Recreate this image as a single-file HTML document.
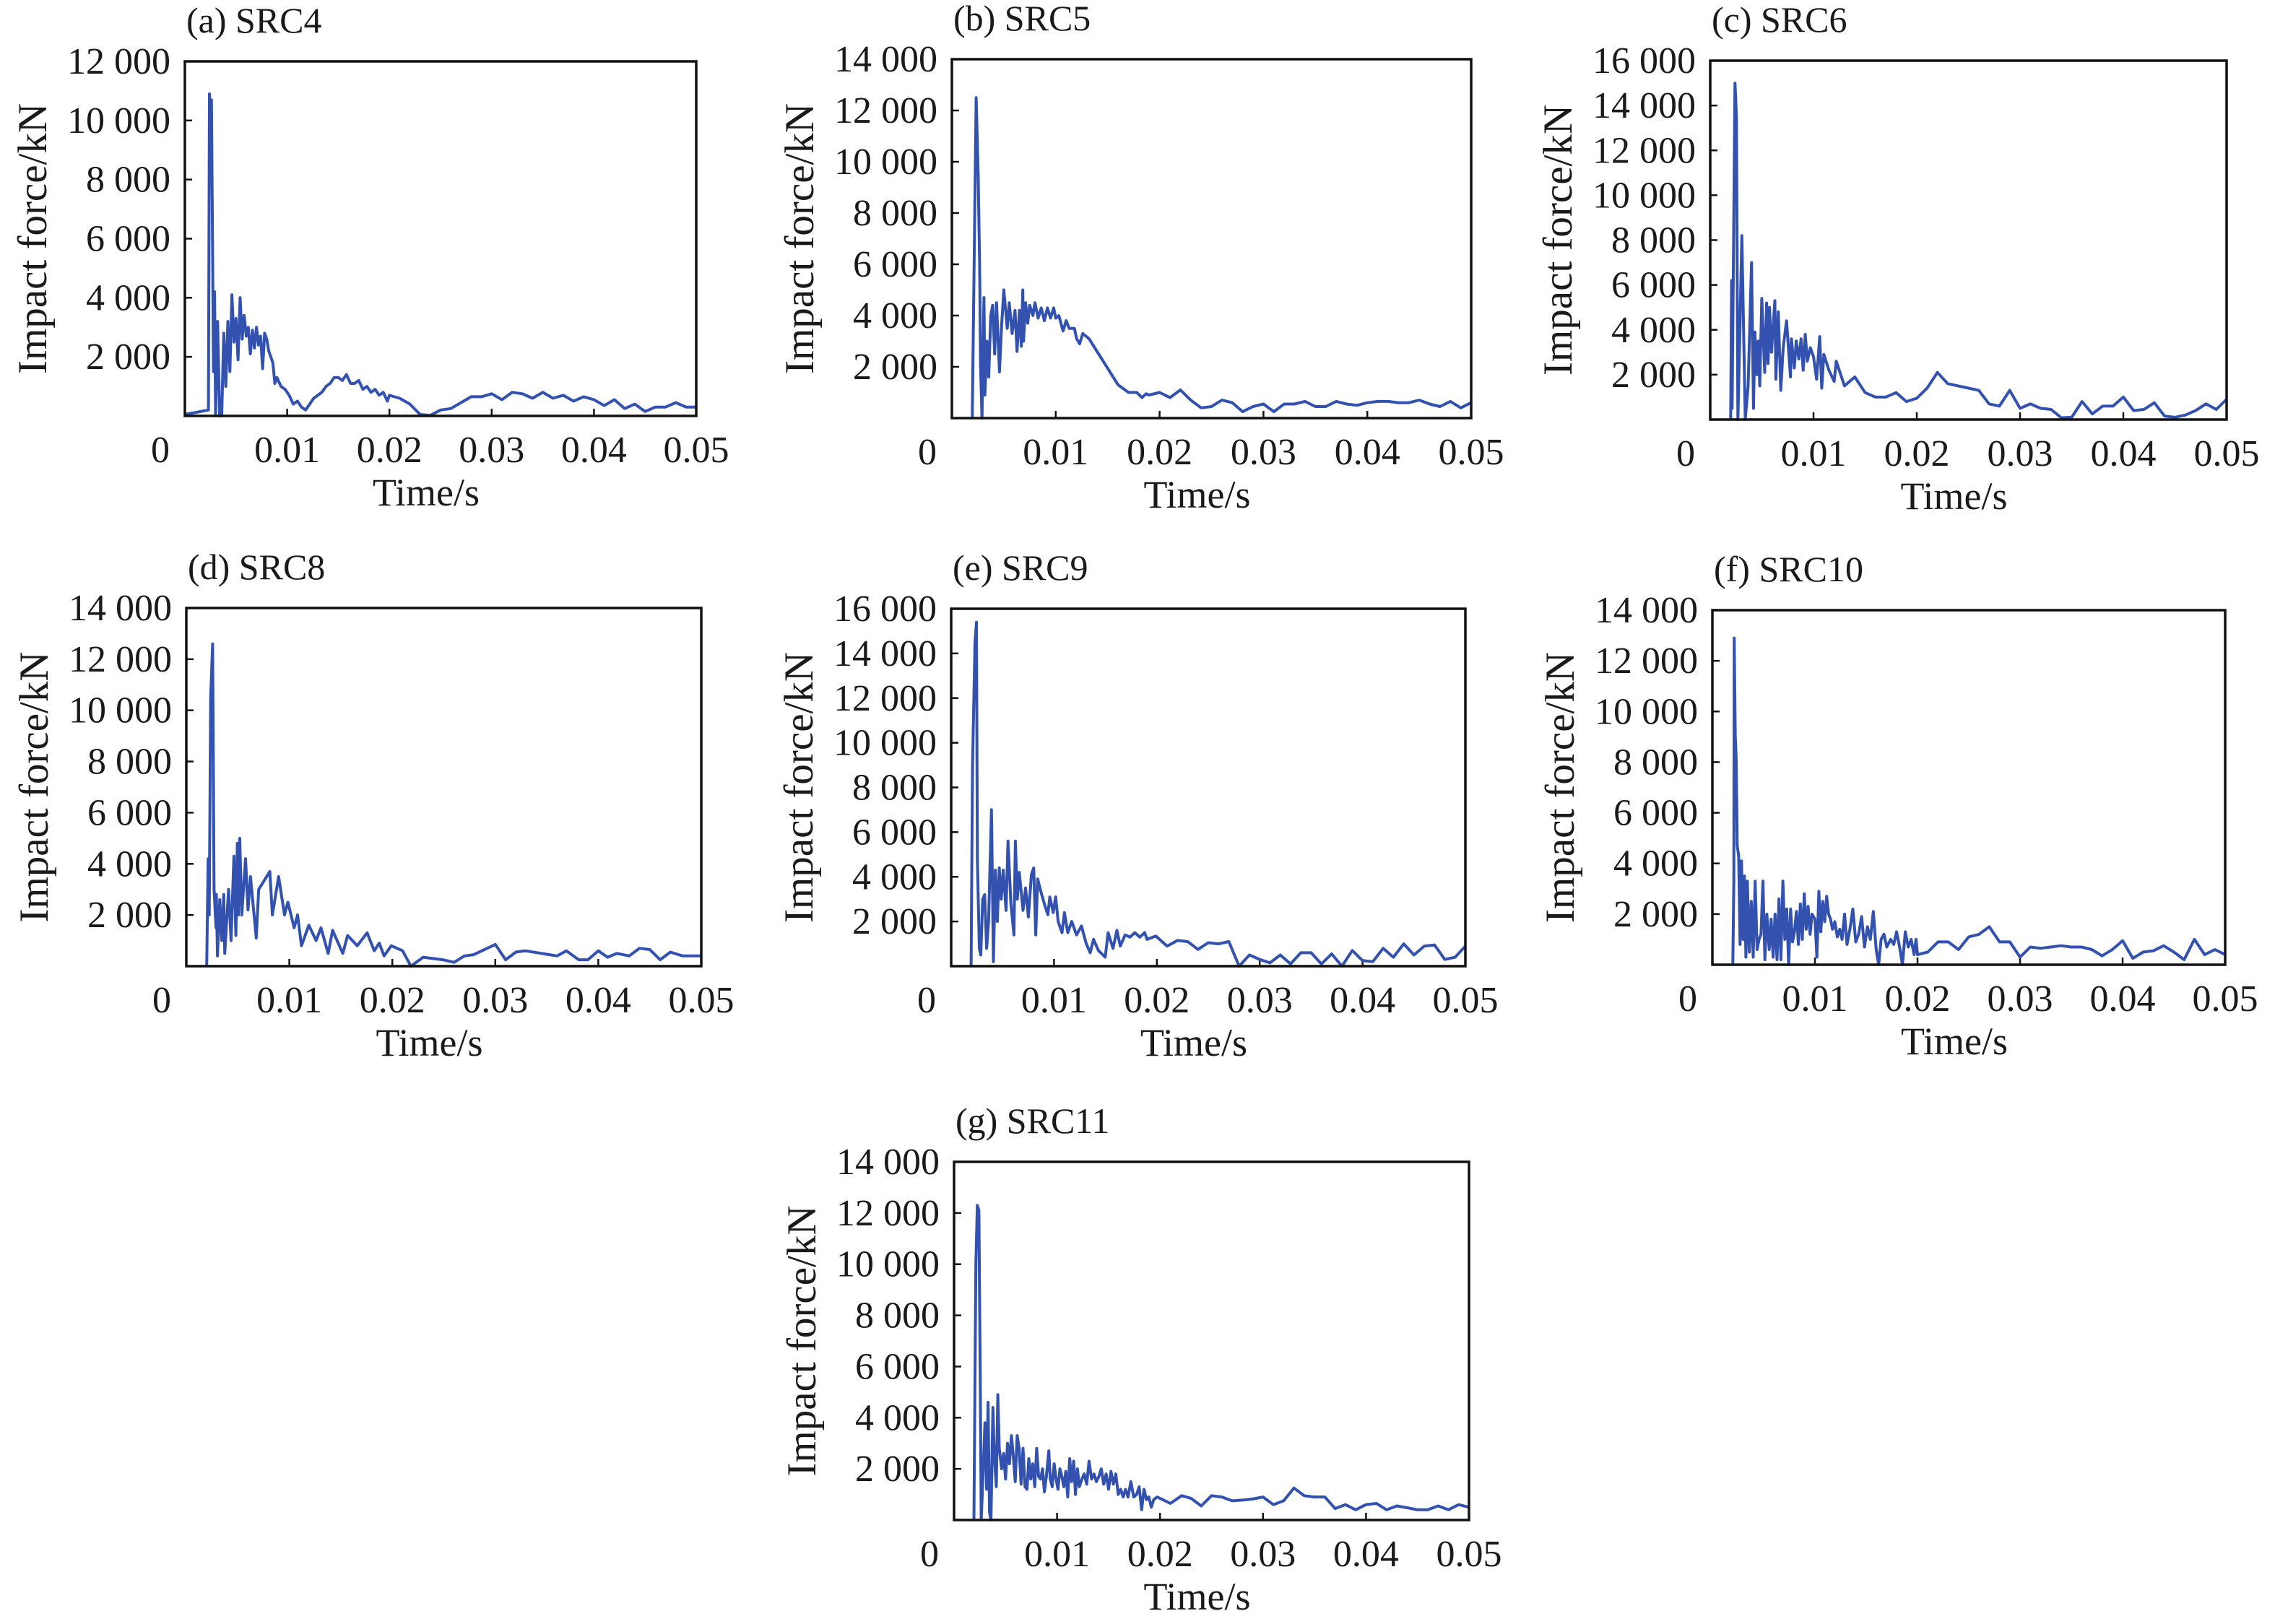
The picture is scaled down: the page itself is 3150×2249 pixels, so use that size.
<!DOCTYPE html>
<html><head><meta charset="utf-8">
<style>
html,body{margin:0;padding:0;background:#fff;}
svg{display:block;}
text{font-family:"Liberation Serif","DejaVu Serif",serif;fill:#1a1a1a;}
</style></head>
<body>
<svg id="fig" width="3150" height="2249" viewBox="0 0 3150 2249" xmlns="http://www.w3.org/2000/svg"></svg>
<script>
// ---- data (time in ms, force in kN) ----
const aTime=[0,2.3,2.4,2.5,2.6,2.8,2.9,3.0,3.2,3.4,3.6,3.8,4.0,4.2,4.4,4.6,4.8,5.0,5.2,5.4,5.6,5.8,6.0,6.2,6.4,6.6,6.8,7.0,7.2,7.4,7.6,7.8,8.0,8.2,8.6,8.8,9.0,9.4,9.8,10.2,10.6,11.0,11.4,11.8,12.2,12.6,13.0,13.4,13.8,14.2,14.6,15.0,15.4,15.8,16.2,16.6,17.0,17.4,17.8,18.2,18.6,19.0,19.4,19.8,20,21,22,23,24,25,26,27,28,29,30,31,32,33,34,35,36,37,38,39,40,41,42,43,44,45,46,47,48,49,50];
const aForce=[50,200,10900,10000,10700,1500,4200,0,3200,0,0,2800,1000,3200,1500,4100,2500,3300,1900,4000,2600,3400,2700,3000,2100,2900,2300,3000,2400,2700,1600,2800,2600,2200,1800,1100,1300,1000,900,700,400,500,300,200,400,600,700,800,1000,1100,1300,1300,1200,1400,1100,1100,1200,900,1000,800,900,700,800,500,700,600,400,50,20,200,250,450,650,650,750,550,800,750,600,800,600,700,500,650,550,350,550,250,400,150,300,300,450,300,300];

const bTime=[1.96,2.34,2.53,2.67,2.76,2.90,3.09,3.18,3.37,3.55,3.74,3.93,4.12,4.30,4.58,4.77,5.00,5.33,5.52,5.80,6.08,6.27,6.50,6.69,6.83,6.9,7.1,7.3,7.5,7.8,8.0,8.3,8.6,8.9,9.2,9.5,9.8,10.0,10.3,10.7,11.0,11.3,11.8,12.0,12.3,12.6,13.2,16.0,17,17.8,18.3,18.7,19,20,21,22,23,24,25,26,27,28,29,30,31,32,33,34,35,36,37,38,39,40,41,42,43,44,45,46,47,48,49,50];
const bForce=[0,12500,9500,6000,2000,0,4700,900,3000,1600,4000,4400,2500,4500,1800,3500,5000,3500,4500,3300,4200,2600,4200,2800,5000,3000,4500,3700,4400,4000,4500,3900,4300,3800,4300,3900,4300,3900,4000,3400,3800,3500,3500,3100,2900,3300,3100,1300,1000,1000,800,950,900,1000,800,1100,700,400,450,700,600,250,450,550,250,550,550,650,450,450,650,550,500,600,650,650,600,600,700,550,450,650,400,600];

const cTime=[1.98,2.07,2.12,2.40,2.54,2.68,2.82,3.06,3.39,3.67,4.00,4.19,4.33,4.52,4.66,4.80,4.99,5.27,5.46,5.60,5.74,5.93,6.26,6.36,6.59,6.83,7.06,7.39,7.77,7.86,8.14,8.33,8.57,8.8,9.0,9.2,9.4,9.7,10.0,10.3,10.6,10.8,11.0,11.5,12.0,12.2,13,14,15,16,17,18,19,20,21,22,23,24,25,26,27,28,29,30,31,32,33,34,35,36,37,38,39,40,41,42,43,44,45,46,47,48,49,50];
const cForce=[0,6200,500,15000,13500,0,2800,8200,0,1500,7000,500,3900,2000,3500,1500,5400,2100,5200,2500,5000,3000,5300,1800,4800,1300,3200,4400,1900,3600,2300,3500,2700,3600,2200,3800,2600,3200,2800,1800,3700,1400,2900,2200,1700,2600,1500,1900,1200,1000,1000,1200,800,950,1400,2100,1600,1500,1400,1300,700,600,1300,500,700,500,450,80,100,800,250,600,600,1000,400,450,750,150,100,200,400,700,450,900];

const dTime=[1.98,2.12,2.22,2.36,2.55,2.69,2.88,2.92,3.02,3.25,3.44,3.63,3.73,4.10,4.34,4.62,4.81,4.95,5.05,5.19,5.38,5.75,5.99,6.23,6.79,7.03,8.11,8.35,8.96,9.53,9.86,10.47,10.80,11.18,11.89,12.60,13.07,13.77,14.20,15.19,15.66,16.60,17.55,18.25,18.73,19.20,19.90,21.0,21.8,23.0,24.9,26.0,27.0,27.9,30.0,31.0,32.0,32.9,36.0,36.9,38.1,39.0,40.0,40.9,41.8,43.0,44.0,45.0,46.0,47.0,48.2,50];
const dForce=[0,4200,2000,10500,12600,3000,1500,2800,400,2600,1000,2800,500,3000,1000,4300,1200,4800,2000,5000,2000,4200,2200,3500,1100,3000,3700,2000,3500,2000,2500,1500,2000,800,1600,1000,1500,500,1400,500,1200,800,1300,600,900,400,800,600,0,350,250,150,400,450,850,250,550,600,400,600,250,250,600,350,500,400,700,650,250,550,400,400];

const eTime=[1.94,2.08,2.32,2.46,2.55,2.74,2.88,3.07,3.26,3.45,3.64,3.92,4.11,4.30,4.49,4.68,4.87,5.06,5.34,5.53,5.81,6.10,6.24,6.43,6.62,6.99,7.23,7.51,7.80,8.03,8.22,8.41,8.74,9.12,9.40,9.59,9.92,10.16,10.40,10.78,11.01,11.34,11.72,12.19,12.67,13.14,13.52,13.85,14.32,14.98,15.26,15.74,16.12,16.45,16.92,17.39,17.86,18.34,18.81,19.05,19.9,21,22,23,24,25,26,27,28,29,30,31,32,33,34,35,36,37,38,39,40,41,42,43,44,45,46,47,48,49,50];
const eForce=[0,9000,14500,15400,4800,800,500,3000,3200,800,2000,7000,200,4300,2000,4400,3000,4300,2500,5600,2800,1400,5600,3000,4200,2500,3500,2200,4100,4400,1400,3900,3300,2700,2300,3100,2400,3100,2000,1500,2400,1500,2000,1400,1800,1000,600,1200,700,400,1500,800,1600,900,1400,1300,1500,1300,1500,1200,1350,900,1150,1100,750,1050,1000,1100,0,500,300,150,500,100,600,600,100,550,0,700,250,200,800,400,1000,500,900,950,300,400,900];

const fTime=[1.99,2.09,2.13,2.23,2.32,2.42,2.56,2.70,2.84,2.99,3.13,3.27,3.41,3.60,3.79,3.98,4.17,4.36,4.55,4.74,4.93,5.12,5.31,5.54,5.73,5.92,6.11,6.30,6.49,6.68,6.87,7.06,7.25,7.44,7.63,7.82,8.01,8.20,8.39,8.58,8.77,8.96,9.15,9.34,9.53,9.72,10.0,10.19,10.38,10.57,10.76,10.95,11.14,11.33,11.52,11.71,11.94,12.18,12.42,12.65,12.89,13.13,13.41,13.70,13.98,14.26,14.55,14.83,15.12,15.40,15.69,15.97,16.21,16.45,16.73,17.01,17.39,17.68,17.96,18.25,18.53,18.81,19.10,19.38,19.67,19.86,20.0,21,22,23,24,25,26,27,28,29,30,31,32,33,34,35,36,37,38,39,40,41,42,43,44,45,46,47,48,49,50];
const fForce=[0,3300,12900,9000,8200,4700,4300,800,4100,1000,3500,300,3300,500,2500,300,3300,600,1000,1200,3300,200,2000,600,1800,300,2000,200,2600,200,3300,1000,2200,0,2200,900,1300,2100,800,2400,1000,2800,1400,2300,1200,2000,1800,300,2900,1300,2500,1700,2700,2000,1800,1400,1700,1100,1400,1000,2000,800,1400,2200,900,1200,1900,700,1500,1000,2100,600,0,1000,1200,700,1000,800,1300,700,0,1300,700,1000,400,1000,400,500,900,900,600,1100,1200,1500,900,900,300,700,650,700,750,700,700,600,350,600,950,250,500,550,750,500,200,1000,400,600,400];

const gTime=[1.93,2.12,2.26,2.41,2.55,2.64,2.83,3.0,3.16,3.30,3.44,3.58,3.77,3.91,4.10,4.25,4.39,4.62,4.81,5.00,5.19,5.38,5.57,5.75,5.94,6.13,6.32,6.51,6.70,6.89,7.08,7.26,7.45,7.64,7.83,8.02,8.21,8.40,8.59,8.77,8.96,9.20,9.34,9.53,9.72,9.91,10.09,10.28,10.47,10.66,10.85,11.04,11.23,11.42,11.61,11.79,11.98,12.17,12.41,12.64,12.88,13.11,13.35,13.59,13.82,14.06,14.29,14.53,14.77,15.00,15.24,15.47,15.71,15.94,16.18,16.42,16.65,16.89,17.17,17.45,17.73,17.97,18.21,18.44,18.68,18.91,19.15,19.39,19.72,21,22.1,23,24,25,26,27,28,29,30,31,32,33,34,35,36,37,38,39,40,41,42,43,44,45,46,47,48,49,50];
const gForce=[0,10000,12300,12100,5000,0,2000,3800,1200,4600,300,0,4400,2500,1300,4900,2800,2000,2600,1600,3000,2200,3300,2500,1500,3300,2800,1400,2800,1300,1200,2400,1600,2200,1300,2800,1700,1600,2000,1100,1700,2700,1600,1300,2200,1600,1200,2000,1700,1300,1900,900,2400,1500,2300,1000,2000,1300,1600,1800,1400,2300,1600,1800,1500,1700,2000,1400,1800,1200,1900,1400,1800,1000,1200,900,1200,900,1500,900,1000,1300,400,1200,800,900,500,800,900,650,950,850,550,950,900,750,780,820,900,600,750,1250,950,900,900,450,600,400,600,650,400,550,480,400,400,550,400,600,500,400];

const panelNames=["(a) SRC4","(b) SRC5","(c) SRC6","(d) SRC8","(e) SRC9","(f) SRC10","(g) SRC11"];
const panelYMax=[12000,14000,16000,14000,16000,14000,14000];
const xTickLabels=["0","0.01","0.02","0.03","0.04","0.05"];
const xTickValues=[0,10,20,30,40,50];

// layout (pixel boxes; not data)
const boxes=[
 {l:256,t:85,r:964,b:576},
 {l:1318,t:82,r:2037,b:579},
 {l:2368,t:84,r:3083,b:581},
 {l:258,t:842,r:971,b:1338},
 {l:1317,t:843,r:2029,b:1338},
 {l:2371,t:845,r:3081,b:1336},
 {l:1321,t:1609,r:2034,b:2105}
];
const series=[[aTime,aForce],[bTime,bForce],[cTime,cForce],[dTime,dForce],[eTime,eForce],[fTime,fForce],[gTime,gForce]];
const keys=["src4","src5","src6","src8","src9","src10","src11"];

const NS="http://www.w3.org/2000/svg";
const svg=document.getElementById("fig");
function mk(tag,attrs,parent){const e=document.createElementNS(NS,tag);for(const k in attrs)e.setAttribute(k,attrs[k]);(parent||svg).appendChild(e);return e;}
function fmt(v){const s=String(v);return s.length>3?s.slice(0,s.length-3)+" "+s.slice(-3):s;}

boxes.forEach((bx,i)=>{
  const g=mk("g",{});
  
  
  const ymax=panelYMax[i];
  const xs=v=>bx.l+(v/50)*(bx.r-bx.l);
  const ys=v=>bx.b-(v/ymax)*(bx.b-bx.t);
  const tt=mk("text",{x:bx.l+2,y:bx.t-40,"font-size":50},g);
  tt.textContent=panelNames[i];
  
  
  for(let v=2000;v<=ymax;v+=2000){
    const y=ys(v);
    if(v<ymax){const tk=mk("line",{x1:bx.l,x2:bx.l+10,y1:y,y2:y,stroke:"#111","stroke-width":2.5},g);
      
      }
    const lb=mk("text",{x:bx.l-20,y:y+17,"font-size":52,"text-anchor":"end"},g);
    lb.textContent=fmt(v);
    
    
  }
  xTickValues.forEach((v,j)=>{
    const x=xs(v);
    if(j>0&&j<xTickValues.length-1){const tk=mk("line",{x1:x,x2:x,y1:bx.b,y2:bx.b-10,stroke:"#111","stroke-width":2.5},g);
      
      }
    const lb=mk("text",{x:j===0?bx.l-34:x,y:bx.b+64,"font-size":52,"text-anchor":"middle"},g);
    lb.textContent=xTickLabels[j];
    
    
  });
  const xt=mk("text",{x:(bx.l+bx.r)/2-20,y:bx.b+124,"font-size":54,"text-anchor":"middle"},g);
  xt.textContent="Time/s";
  
  
  const cy=(bx.t+bx.b)/2, cx=bx.l-192;
  const yt=mk("text",{x:cx,y:cy,"font-size":57,"text-anchor":"middle",transform:`rotate(-90 ${cx} ${cy})`},g);
  yt.textContent="Impact force/kN";
  
  
  const [tArr,fArr]=series[i];
  let d="";
  tArr.forEach((t,k)=>{d+=(k?"L":"M")+xs(t).toFixed(1)+","+ys(fArr[k]).toFixed(1);});
  const pl=mk("path",{d:d,fill:"none",stroke:"#3352b0","stroke-width":4,"stroke-linejoin":"round"},g);
  
  
  const fr=mk("rect",{x:bx.l,y:bx.t,width:bx.r-bx.l,height:bx.b-bx.t,fill:"none",stroke:"#111","stroke-width":3.5},g);
  
  
});
</script>
</body></html>
